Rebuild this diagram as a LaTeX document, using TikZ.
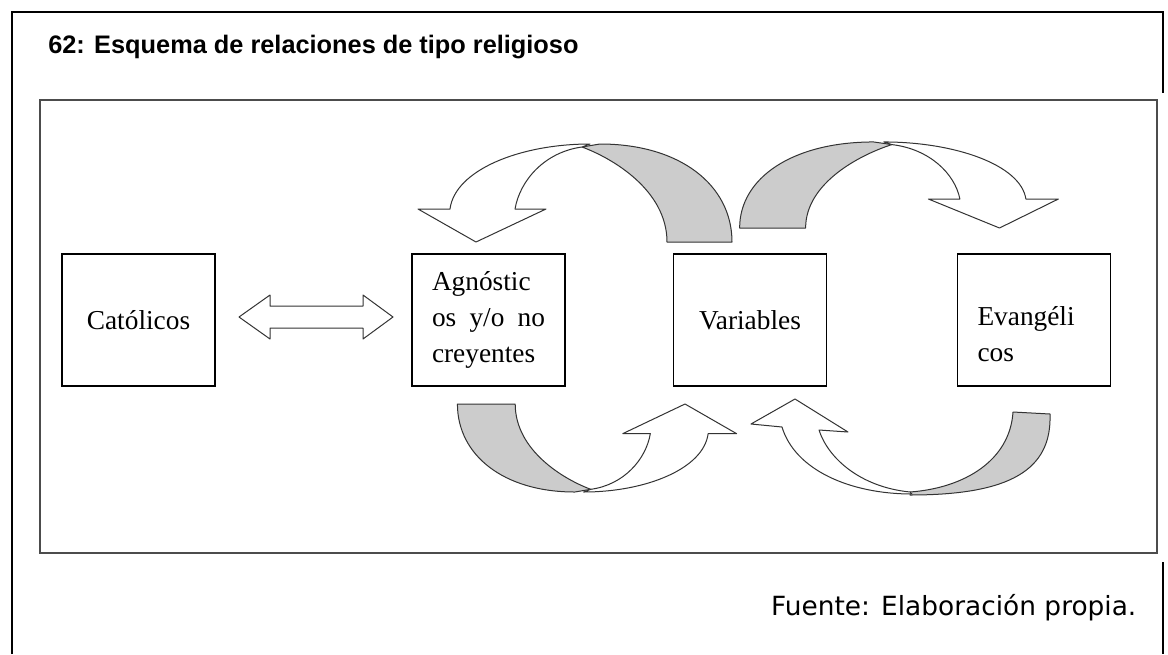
\documentclass[tikz,border=0pt]{standalone}
\usepackage{fontspec}
\setmainfont{Liberation Serif}
\newfontfamily\headfont{Liberation Sans}
\newfontfamily\notefont{DejaVu Sans}
\usetikzlibrary{positioning}
\tikzset{
  entity/.style={
    draw=black,
    line width=0.8pt,
    fill=white,
    minimum width=114.75pt,
    minimum height=99pt,
    inner sep=0pt,
    font=\fontsize{20.5}{27}\selectfont
  },
  entitytext/.style={
    text width=84.75pt,
    align=left
  },
  front/.style={
    draw=black!80,
    line width=0.75pt,
    line join=round,
    fill=white
  },
  back/.style={
    draw=black!80,
    line width=0.75pt,
    line join=round,
    fill=gray!40
  },
  pics/curvarrow/.style={code={
    \path[back] (7,-95) .. controls (37,-84) and (92,-52) .. (92,0)
      -- (157,0) .. controls (157,-57) and (105,-98) .. (25,-98) -- cycle;
    \path[front] (15,-98) .. controls (-55,-98) and (-120,-72) .. (-125,-33)
      -- (-157,-33) -- (-99,0) -- (-29,-33) -- (-60,-33)
      .. controls (-55,-62) and (-30,-90) .. (7,-95) -- cycle;
  }}
}
\begin{document}
\begin{tikzpicture}[x=0.75pt, y=-0.75pt]
  \useasboundingbox (0,0) rectangle (1168,654);
  % frames
  \draw[line width=1.5pt] (12,654) -- (12,12) -- (1163,12) -- (1163,654);
  \fill[white] (30,93) rectangle (1166,562);
  \draw[draw=black!70, line width=1.5pt] (40,100) rectangle (1157,553);
  \node[anchor=west, inner sep=0pt, font=\headfont\bfseries\fontsize{19}{22}\selectfont] (title) at (48,47) {62: Esquema de relaciones de tipo religioso};
  \node[anchor=east, font=\notefont\fontsize{19.8}{24}\selectfont] (source) at (1141,608) {Fuente: Elaboración propia.};

  % groups
  \node[entity] (cat) at (138.5,320) {Católicos};
  \node[entity, entitytext] (agn) at (488.5,320) {Agnóstic\\os\hfill y/o\hfill no\\creyentes};
  \node[entity] (var) at (750,320) {Variables};
  \node[entity, entitytext] (evan) at (1034,320) {\rule{0pt}{36pt}Evangéli\\cos};

  % block arrows
  \draw[front] (239,317) -- (270,295) -- (270,306) -- (363,306) -- (363,295) -- (393,317)
    -- (363,339) -- (363,328) -- (270,328) -- (270,339) -- cycle;
  \pic at (575,242) {curvarrow};
  \pic[xscale=-1.015, yscale=0.878] at (899,228) {curvarrow};
  \pic[xscale=-0.889, yscale=-0.898] at (597,404) {curvarrow};
  \path[back] (1013,412) -- (1050,414) .. controls (1052,470) and (1010,495) .. (910,495)
    -- (910,492) .. controls (965,488) and (1010,460) .. (1013,412) -- cycle;
  \path[front] (782,427) -- (751,424) -- (795,399) -- (848,432) -- (819,430)
    .. controls (828,458) and (860,487) .. (910,492) -- (912,494)
    .. controls (850,494) and (795,470) .. (782,427) -- cycle;
\end{tikzpicture}
\end{document}
